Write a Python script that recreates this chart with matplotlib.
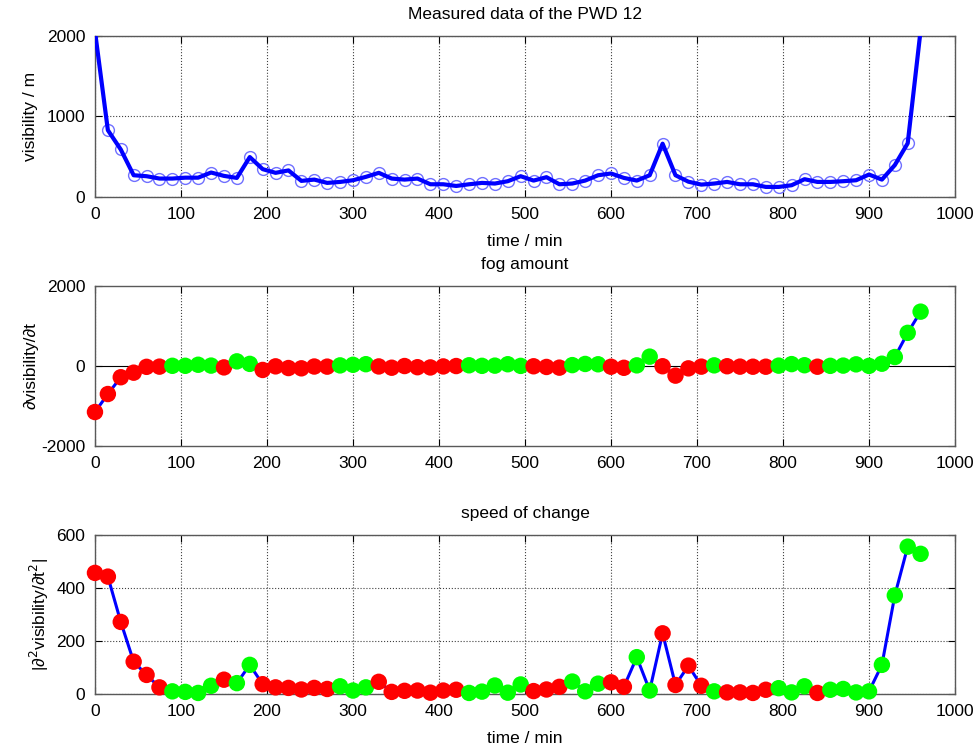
import numpy as np
import matplotlib
matplotlib.use("Agg")
import matplotlib.pyplot as plt

plt.rcParams['font.family'] = ['Liberation Sans', 'DejaVu Sans']
plt.rcParams['axes.unicode_minus'] = False

# time axis, one sample every 15 min
t = np.arange(0, 961, 15)

# measured visibility (m)
vis = [2060, 830, 590, 270, 258, 229, 229, 240, 240, 304, 262, 237, 496, 346, 300, 330,
       200, 216, 175, 187, 208, 250, 300, 229, 216, 229, 158, 158, 137, 158, 175, 167,
       196, 258, 204, 246, 158, 167, 204, 270, 292, 237, 204, 270, 662, 270, 190, 154,
       167, 187, 158, 158, 125, 125, 146, 221, 187, 187, 196, 208, 279, 216, 396, 667,
       2070]

# first derivative (fog amount)
dvis = [-1150, -700, -280, -166, -20, -15, 6, 6, 32, 11, -34, 117, 54, -98, -8, -50,
        -57, -12, -15, 16, 31, 46, -10, -42, 0, -29, -35, -10, 0, 19, 5, 10,
        45, 4, -6, -23, -40, 23, 52, 44, -17, -44, 17, 235, -5, -240, -58, -15,
        17, -5, -15, -17, -17, 10, 48, 20, -17, 5, 11, 42, 4, 58, 225, 830,
        1360]

# |second derivative| (speed of change)
d2vis = [457, 443, 272, 122, 72, 25, 10, 8, 4, 31, 54, 41, 110, 37, 25, 23,
         17, 23, 19, 29, 13, 25, 46, 8, 12, 13, 5, 13, 16, 4, 9, 32,
         5, 36, 11, 17, 27, 47, 10, 39, 44, 27, 139, 13, 229, 34, 107, 31,
         10, 6, 6, 4, 16, 22, 6, 29, 4, 16, 19, 6, 10, 110, 372, 556,
         529]

colors = ['#00ff00' if d > 0 else '#ff0000' for d in dvis]

fig = plt.figure(figsize=(9.8, 7.51), dpi=100)
ax1 = fig.add_axes([0.0969, 0.7377, 0.8776, 0.2144])
ax2 = fig.add_axes([0.0969, 0.4061, 0.8776, 0.2130])
ax3 = fig.add_axes([0.0969, 0.0759, 0.8776, 0.2117])

fs = 12.5

# top: measured data
ax1.plot(t, vis, 'o', mfc='none', mec='#7070ff', ms=8.5, mew=1, zorder=2)
ax1.plot(t, vis, '-', color='#0000ff', lw=3, zorder=3)
ax1.set_ylim(0, 2000)
ax1.set_yticks([0, 1000, 2000])
ax1.set_title('Measured data of the PWD 12', fontsize=fs, pad=12)
ax1.set_xlabel('time / min', fontsize=fs, labelpad=9)
ax1.set_ylabel('visibility / m', fontsize=fs, labelpad=6)

# middle: first derivative
ax2.axhline(0, color='k', lw=0.8, zorder=1)
ax2.plot(t, dvis, '-', color='#0000ff', lw=2.2, zorder=2)
ax2.scatter(t, dvis, c=colors, s=140, linewidths=0, zorder=3, clip_on=False)
ax2.set_ylim(-2000, 2000)
ax2.set_yticks([-2000, 0, 2000])
ax2.set_title('fog amount', fontsize=fs, pad=12)
ax2.set_ylabel('∂visibility/∂t', fontsize=fs, labelpad=2)

# bottom: second derivative
ax3.plot(t, d2vis, '-', color='#0000ff', lw=2.2, zorder=2)
ax3.scatter(t, d2vis, c=colors, s=140, linewidths=0, zorder=3, clip_on=False)
ax3.set_ylim(0, 600)
ax3.set_yticks([0, 200, 400, 600])
ax3.set_title('speed of change', fontsize=fs, pad=12)
ax3.set_xlabel('time / min', fontsize=fs, labelpad=9)
ax3.set_ylabel('|∂$^2$visibility/∂t$^2$|', fontsize=fs, labelpad=4)

for ax in (ax1, ax2, ax3):
    ax.set_xlim(0, 1000)
    ax.set_xticks(np.arange(0, 1001, 100))
    ax.tick_params(direction='in', top=True, right=True, length=5, labelsize=fs,
                   colors='k', pad=7)
    ax.grid(True, linestyle=':', color='0.25', lw=0.8)
    if ax is ax2:
        ax.yaxis.grid(False)
    for s in ax.spines.values():
        s.set_color('0.35')
        s.set_linewidth(1)
    ax.set_axisbelow(True)

fig.savefig('out.png', dpi=100)
